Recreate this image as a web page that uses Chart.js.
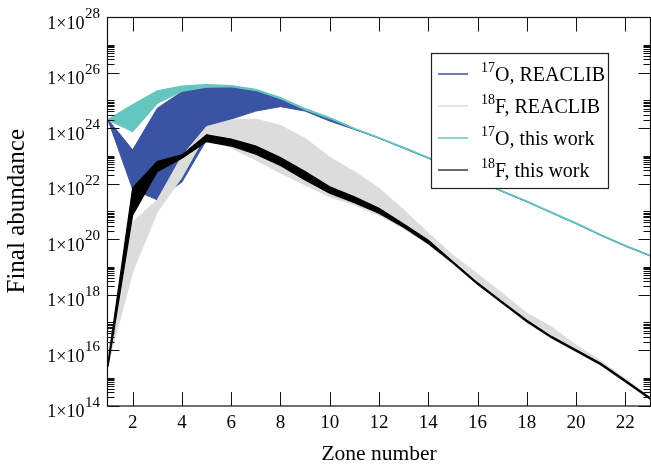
<!DOCTYPE html>
<html>
<head>
<meta charset="utf-8">
<script src="https://cdn.jsdelivr.net/npm/chart.js@4.4.1/dist/chart.umd.min.js"></script>
<style>
  html, body { margin: 0; padding: 0; background: #ffffff; }
  #wrap { width: 651px; height: 464px; position: relative; }
</style>
</head>
<body>
<div id="wrap"><canvas id="chart" width="651" height="464"></canvas></div>
<script>
// Zones along the x axis
const zones = [1, 2, 3, 4, 5, 6, 7, 8, 9, 10, 11, 12, 13, 14, 15, 16, 17, 18, 19, 20, 21, 22, 23];
const xTickValues = [2, 4, 6, 8, 10, 12, 14, 16, 18, 20, 22];
// Decades labelled on the y axis (powers of ten)
const yTickExponents = [14, 16, 18, 20, 22, 24, 26, 28];

// Final abundances as log10 values: upper and lower edge of each band
const o17ReaclibMax = [24.31, 23.21, 24.71, 25.31, 25.45, 25.49, 25.35, 25.06, 24.66, 24.33, 23.97, 23.64, 23.28, 22.92, 22.52, 22.11, 21.72, 21.35, 20.95, 20.56, 20.14, 19.75, 19.40];
const o17ReaclibMin = [24.29, 21.79, 21.41, 22.05, 23.57, 24.32, 24.61, 24.77, 24.61, 24.25, 23.95, 23.63, 23.27, 22.91, 22.51, 22.10, 21.71, 21.34, 20.94, 20.55, 20.13, 19.74, 19.39];

const f18ReaclibMax = [15.90, 20.61, 21.41, 22.99, 24.05, 24.29, 24.32, 24.09, 23.63, 22.95, 22.43, 21.83, 21.05, 20.22, 19.42, 18.74, 18.05, 17.33, 16.83, 16.18, 15.61, 14.97, 14.31];
const f18ReaclibMin = [15.45, 18.81, 20.97, 22.22, 23.82, 23.28, 22.85, 22.38, 21.95, 21.52, 21.23, 20.86, 20.38, 19.80, 19.11, 18.35, 17.67, 17.00, 16.42, 15.94, 15.45, 14.84, 14.21];

const o17ThisWorkMax = [24.31, 24.84, 25.34, 25.51, 25.56, 25.53, 25.39, 25.10, 24.70, 24.38, 23.99, 23.66, 23.30, 22.94, 22.54, 22.13, 21.74, 21.37, 20.97, 20.58, 20.16, 19.77, 19.42];
const o17ThisWorkMin = [24.29, 23.87, 24.89, 25.33, 25.47, 25.49, 25.35, 25.06, 24.66, 24.34, 23.97, 23.64, 23.28, 22.92, 22.52, 22.11, 21.72, 21.35, 20.95, 20.56, 20.14, 19.75, 19.40];

const f18ThisWorkMax = [15.55, 21.84, 22.79, 23.03, 23.75, 23.60, 23.35, 22.94, 22.43, 21.88, 21.52, 21.11, 20.54, 19.96, 19.18, 18.42, 17.74, 17.07, 16.49, 16.01, 15.52, 14.91, 14.28];
const f18ThisWorkMin = [15.40, 20.86, 22.43, 22.91, 23.51, 23.35, 23.06, 22.65, 22.13, 21.65, 21.31, 20.93, 20.42, 19.84, 19.13, 18.37, 17.69, 17.02, 16.44, 15.96, 15.47, 14.86, 14.23];

// Legend entries: isotope mass number (superscript) and the rest of the label
const legendSup = ['17', '18', '17', '18'];
const legendText = ['O, REACLIB', 'F, REACLIB', 'O, this work', 'F, this work'];

const COLORS = {
  o17Reaclib: '#3a53a3',
  f18Reaclib: '#dcdcdc',
  o17ThisWork: '#64c6bf',
  f18ThisWork: '#000000'
};
const legendColors = [COLORS.o17Reaclib, COLORS.f18Reaclib, COLORS.o17ThisWork, '#3a3a3a'];

const SERIF = '"Liberation Serif", "Times New Roman", serif';

function toPoints(exps) {
  return zones.map((z, i) => ({ x: z, y: Math.pow(10, exps[i]) }));
}

function band(label, hi, lo, color, bw) {
  return [
    { label: label, data: toPoints(hi), fill: '+1', backgroundColor: color, borderColor: color,
      borderWidth: bw, pointRadius: 0, tension: 0 },
    { label: label + ' min', data: toPoints(lo), fill: false, backgroundColor: color, borderColor: color,
      borderWidth: bw, pointRadius: 0, tension: 0 }
  ];
}

// Frame, inward ticks, y labels with superscript exponents and the boxed legend
const framePlugin = {
  id: 'frame',
  afterDatasetsDraw(chart) {
    const { ctx, chartArea: a, scales } = chart;
    const xs = scales.x, ys = scales.y;
    const L = a.left - 0.5, R = a.right + 0.5, T = a.top + 0.5, B = a.bottom + 0.5;
    ctx.save();
    ctx.strokeStyle = '#111';
    ctx.lineWidth = 1.2;
    ctx.strokeRect(L, T, R - L, B - T);

    ctx.lineWidth = 1;
    ctx.beginPath();
    xTickValues.forEach(v => {
      const px = Math.round(xs.getPixelForValue(v)) + 0.5;
      ctx.moveTo(px, B); ctx.lineTo(px, B - 14);
      ctx.moveTo(px, T); ctx.lineTo(px, T + 14);
    });
    yTickExponents.forEach(e => {
      const py = Math.round(ys.getPixelForValue(Math.pow(10, e))) + 0.5;
      ctx.moveTo(L, py); ctx.lineTo(L + 12, py);
      ctx.moveTo(R, py); ctx.lineTo(R - 12, py);
      for (let k = 2; k <= 10; k++) {
        const v = k * Math.pow(10, e);
        if (v > ys.max) continue;
        const my = Math.round(ys.getPixelForValue(v)) + 0.5;
        ctx.moveTo(L, my); ctx.lineTo(L + 7, my);
        ctx.moveTo(R, my); ctx.lineTo(R - 7, my);
      }
    });
    ctx.stroke();

    // y tick labels: 1×10 with the exponent raised
    ctx.fillStyle = '#000';
    ctx.textBaseline = 'alphabetic';
    yTickExponents.forEach(e => {
      const py = ys.getPixelForValue(Math.pow(10, e));
      ctx.font = '15px ' + SERIF;
      ctx.textAlign = 'right';
      const supW = ctx.measureText(String(e)).width;
      ctx.fillText(String(e), 100, py + 1);
      ctx.font = '18px ' + SERIF;
      ctx.fillText('1\u00d710', 100 - supW - 0.5, py + 11.5);
    });

    // legend
    const bx = 431.5, by = 53.5, bw = 177, bh = 135;
    ctx.fillStyle = '#fff';
    ctx.fillRect(bx, by, bw, bh);
    ctx.strokeStyle = '#222';
    ctx.lineWidth = 1.2;
    ctx.strokeRect(bx, by, bw, bh);
    const rows = [74, 106, 138, 170];
    rows.forEach((ry, i) => {
      ctx.strokeStyle = legendColors[i];
      ctx.lineWidth = 1.5;
      ctx.beginPath();
      ctx.moveTo(438, ry); ctx.lineTo(468, ry);
      ctx.stroke();
      ctx.fillStyle = '#000';
      ctx.textAlign = 'left';
      ctx.font = '14px ' + SERIF;
      ctx.fillText(legendSup[i], 481, ry - 2);
      const sw = ctx.measureText(legendSup[i]).width;
      ctx.font = '20px ' + SERIF;
      ctx.fillText(legendText[i], 481 + sw, ry + 7);
    });
    ctx.restore();
  }
};

const datasets = [
  ...band('18F, this work', f18ThisWorkMax, f18ThisWorkMin, COLORS.f18ThisWork, 1.2),
  ...band('17O, this work', o17ThisWorkMax, o17ThisWorkMin, COLORS.o17ThisWork, 1.2),
  ...band('18F, REACLIB', f18ReaclibMax, f18ReaclibMin, COLORS.f18Reaclib, 1),
  ...band('17O, REACLIB', o17ReaclibMax, o17ReaclibMin, COLORS.o17Reaclib, 1)
];

new Chart(document.getElementById('chart'), {
  type: 'line',
  data: { datasets },
  plugins: [framePlugin],
  options: {
    responsive: false,
    animation: false,
    events: [],
    layout: { padding: { top: 17, right: 1, left: 0, bottom: 0 } },
    plugins: {
      legend: { display: false },
      tooltip: { enabled: false },
      filler: { propagate: false }
    },
    scales: {
      x: {
        type: 'linear',
        min: 1,
        max: 23,
        afterBuildTicks: s => { s.ticks = xTickValues.map(v => ({ value: v })); },
        afterFit: s => { s.height = 58.5; },
        grid: { display: false, drawTicks: false },
        border: { display: false },
        ticks: { color: '#000', padding: 6, maxRotation: 0, autoSkip: false,
                 font: { family: SERIF, size: 19 } },
        title: { display: true, text: 'Zone number', color: '#000',
                 font: { family: SERIF, size: 21.5, lineHeight: 0.93 }, padding: { top: 0, bottom: 0 } }
      },
      y: {
        type: 'logarithmic',
        min: 1e14,
        max: 1e28,
        afterBuildTicks: s => { s.ticks = yTickExponents.map(e => ({ value: Math.pow(10, e) })); },
        afterFit: s => { s.width = 108; },
        grid: { display: false, drawTicks: false },
        border: { display: false },
        ticks: { display: false },
        title: { display: true, text: 'Final abundance', color: '#000',
                 font: { family: SERIF, size: 25 }, padding: { top: 2, bottom: 0 } }
      }
    }
  }
});
</script>
</body>
</html>
